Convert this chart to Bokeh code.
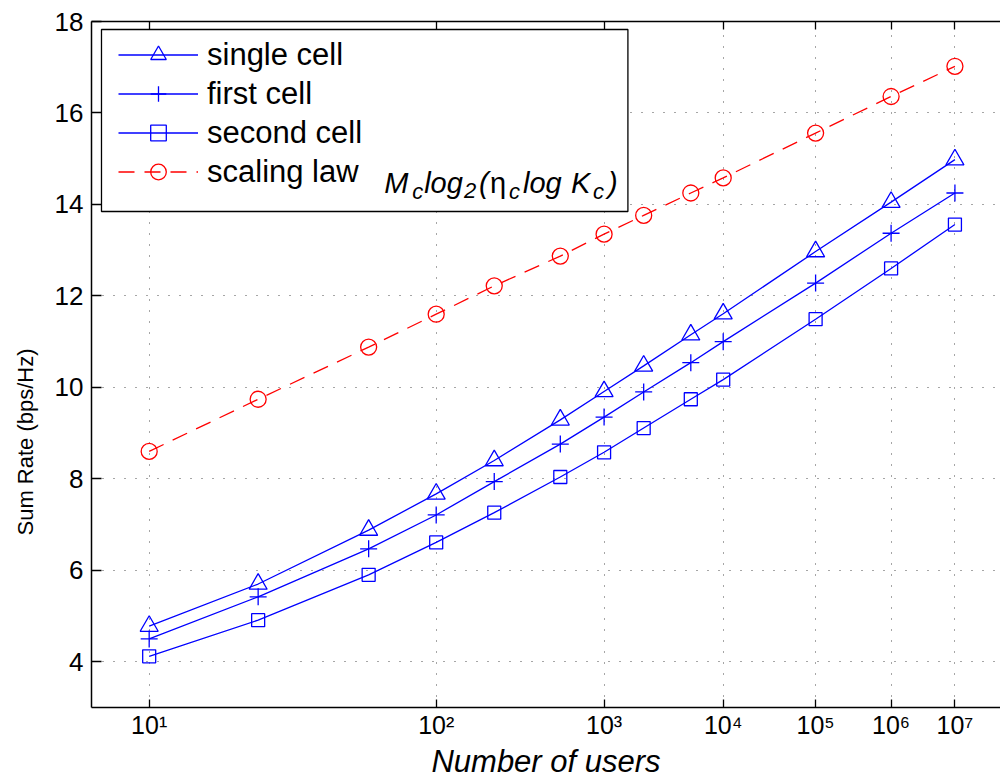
import numpy as np
from bokeh.plotting import figure
from bokeh.models import (FixedTicker, LinearAxis, Range1d, Legend, LegendItem,
                          Label, BoxAnnotation, Title)
from bokeh.embed import file_html
from bokeh.resources import INLINE

# ---------------- data ----------------
users = [10, 20, 50, 100, 200, 500, 1000, 2000, 5000, 1e4, 1e5, 1e6, 1e7]
single_cell = [4.78, 5.70, 6.88, 7.67, 8.40, 9.29, 9.91, 10.47, 11.15, 11.61, 12.97, 14.05, 14.98]
first_cell = [4.50, 5.42, 6.47, 7.21, 7.94, 8.76, 9.35, 9.90, 10.54, 11.00, 12.28, 13.37, 14.25]
second_cell = [4.12, 4.91, 5.90, 6.61, 7.26, 8.04, 8.58, 9.11, 9.74, 10.17, 11.49, 12.60, 13.56]
scaling_law = [8.60, 9.74, 10.88, 11.60, 12.22, 12.87, 13.35, 13.76, 14.25, 14.58, 15.56, 16.36, 17.02]

x_tick_exponents = [1, 2, 3, 4, 5, 6, 7]
x_tick_labels = ["10\u00b9", "10\u00b2", "10\u00b3", "10\u2074", "10\u2075", "10\u2076", "10\u2077"]
y_ticks = [4, 6, 8, 10, 12, 14, 16, 18]

# x axis is log(log K)
xs = np.log10(np.log10(np.array(users, dtype=float)))
x_ticks = [float(np.log10(e)) for e in x_tick_exponents]

# ---------------- layout ----------------
W, H = 1000, 784
FL, FR, FT, FB = 90, 1000, 21, 707
X0, X1 = -0.0605, 0.8929
Y0, Y1 = 3.0, 18.0


def px2x(px):
    return X0 + (px - FL) / (FR - FL) * (X1 - X0)


def px2y(py):
    return Y1 - (py - FT) / (FB - FT) * (Y1 - Y0)


FONT = "Liberation Sans"
BLUE = "#0000ff"
RED = "#ff0000"

p = figure(width=W, height=H, x_range=Range1d(X0, X1), y_range=Range1d(Y0, Y1),
           output_backend="svg", toolbar_location=None,
           min_border_left=FL, min_border_right=W - FR,
           min_border_top=FT, min_border_bottom=H - FB)
p.outline_line_color = None
p.background_fill_color = "white"
p.border_fill_color = "white"

xt = FixedTicker(ticks=x_ticks)
yt = FixedTicker(ticks=y_ticks)

xa = p.xaxis[0]
xa.ticker = xt
xa.major_label_overrides = {t: lab for t, lab in zip(x_ticks, x_tick_labels)}
xa.major_label_text_font = FONT
xa.major_label_text_font_size = "25px"
xa.major_label_text_color = "black"
xa.major_label_standoff = 3
xa.major_tick_in = 8
xa.major_tick_out = 0
xa.minor_tick_in = 0
xa.minor_tick_out = 0
xa.axis_line_width = 1.5
xa.major_tick_line_width = 1.3

ya = p.yaxis[0]
ya.ticker = yt
ya.major_label_text_font = FONT
ya.major_label_text_font_size = "26px"
ya.major_label_text_color = "black"
ya.major_label_standoff = 8
ya.major_tick_in = 10
ya.major_tick_out = 0
ya.minor_tick_in = 0
ya.minor_tick_out = 0
ya.axis_line_width = 1.5
ya.major_tick_line_width = 1.3

top = LinearAxis(ticker=xt, major_label_text_font_size="0px", major_label_standoff=0,
                 major_tick_in=8, major_tick_out=0, minor_tick_in=0, minor_tick_out=0,
                 axis_line_width=1.5, major_tick_line_width=1.3)
top.major_label_overrides = {t: "" for t in x_ticks}
p.add_layout(top, "above")

# x-axis title
xtitle = Title(text="Number of users", align="center", vertical_align="bottom",
               standoff=0, text_font=FONT, text_font_size="31px",
               text_font_style="italic", text_color="black")
p.add_layout(xtitle, "below")

# y-axis title (placed lower than the centre, as in the reference)
ytitle = Title(text="Sum Rate (bps/Hz)", align="left", vertical_align="top",
               offset=172, standoff=24, text_font=FONT, text_font_size="22px",
               text_font_style="normal", text_color="black")
p.add_layout(ytitle, "left")

for g, t in ((p.xgrid[0], xt), (p.ygrid[0], yt)):
    g.ticker = t
    g.grid_line_color = "#000000"
    g.grid_line_alpha = 0.7
    g.grid_line_dash = "1 10"
    g.grid_line_width = 1

# ---------------- series ----------------
lw = 1.3
l1 = p.line(xs, single_cell, line_color=BLUE, line_width=lw)
s1 = p.scatter(xs, single_cell, marker="triangle", size=18, fill_color=None,
               line_color=BLUE, line_width=lw)
l2 = p.line(xs, first_cell, line_color=BLUE, line_width=lw)
s2 = p.scatter(xs, first_cell, marker="cross", size=17, line_color=BLUE, line_width=lw)
l3 = p.line(xs, second_cell, line_color=BLUE, line_width=lw)
s3 = p.scatter(xs, second_cell, marker="square", size=13, fill_color=None,
               line_color=BLUE, line_width=lw)
l4 = p.line(xs, scaling_law, line_color=RED, line_width=lw, line_dash="16 10")
s4 = p.scatter(xs, scaling_law, marker="circle", size=16, fill_color=None,
               line_color=RED, line_width=lw)

# ---------------- legend ----------------
box = BoxAnnotation(left=px2x(100), right=px2x(627), top=px2y(29), bottom=px2y(211),
                    fill_color="white", fill_alpha=1.0, line_color="black",
                    line_width=1.3, line_alpha=1.0)
p.add_layout(box)

legend = Legend(items=[
    LegendItem(label="single cell", renderers=[l1, s1]),
    LegendItem(label="first cell", renderers=[l2, s2]),
    LegendItem(label="second cell", renderers=[l3, s3]),
    LegendItem(label="scaling law", renderers=[l4, s4]),
], location=(27, 516), border_line_color=None, background_fill_alpha=0,
    label_text_font=FONT, label_text_font_size="31px", label_text_color="black",
    glyph_width=80, glyph_height=39, spacing=0, padding=5, label_standoff=9, margin=0)
p.add_layout(legend)

# formula  M_c log_2(eta_c log K_c)
base = 182
formula = [
    ("M", 383, 29, 0, "italic"),
    ("c", 411, 22, 9, "italic"),
    ("log", 423, 29, 0, "italic"),
    ("2", 463, 22, 8, "italic"),
    ("(", 478, 29, 0, "italic"),
    ("\u03b7", 489, 29, 0, "normal"),
    ("c", 508, 22, 9, "italic"),
    ("log", 522, 29, 0, "italic"),
    ("K", 570, 29, 0, "italic"),
    ("c", 592, 22, 9, "italic"),
    (")", 607, 29, 0, "italic"),
]
for txt, px, sz, dy, st in formula:
    p.add_layout(Label(x=px2x(px), y=px2y(base + dy), text=txt, text_font=FONT,
                       text_font_size=f"{sz}px", text_font_style=st,
                       text_baseline="alphabetic", text_align="left",
                       text_color="black"))

open("out.html", "w").write(file_html(p, INLINE))
